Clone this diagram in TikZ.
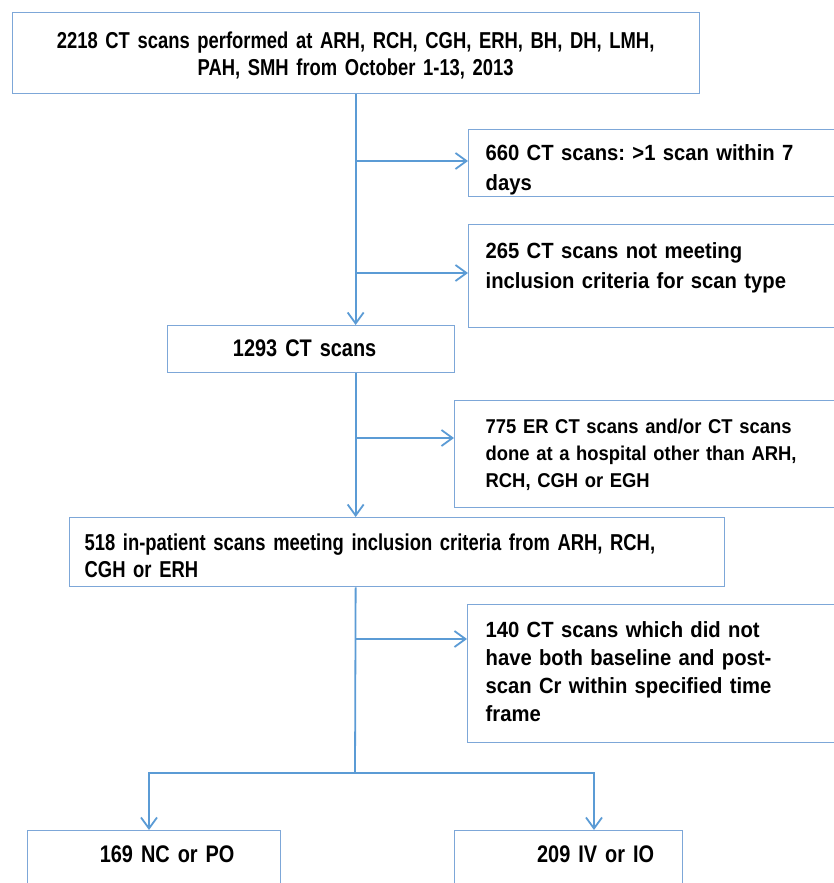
\documentclass[tikz,border=0pt]{standalone}
\usepackage{fontspec}
\setmainfont[FakeStretch=0.92,WordSpace=0.8]{Liberation Sans}
\newfontfamily\narrowfont[FakeStretch=0.80,WordSpace=0.8]{Liberation Sans}
\newfontfamily\condfont[FakeStretch=0.83,WordSpace=0.8]{Liberation Sans}
\usepackage{tikz}
\usetikzlibrary{arrows.meta,positioning}
\definecolor{boxline}{RGB}{125,167,216}
\definecolor{linkline}{RGB}{91,155,213}
\frenchspacing

\begin{document}
\begin{tikzpicture}[x=1pt,y=-1pt,
    box/.style={draw=boxline,line width=1.3pt,anchor=north west,inner ysep=0pt,inner xsep=4pt,font=\bfseries\fontsize{22}{30}\selectfont},
    narrowa/.style={font=\narrowfont\bfseries\fontsize{23}{26.5}\selectfont},
    narrowb/.style={font=\condfont\bfseries\fontsize{24}{28}\selectfont},
    trunk/.style={draw=linkline,line width=1.8pt},
    link/.style={trunk,-{Straight Barb[length=11pt,width=16pt]}}]
            \useasboundingbox (0,0) rectangle (833,883);

            \node[box,narrowa,minimum width=687pt,text width=679pt,align=center,text height=36pt,text depth=45pt] (all) at (11.5,12) {2218 CT scans performed at ARH, RCH, CGH, ERH, BH, DH, LMH,\\ PAH, SMH from October 1-13, 2013};
            \node[box,minimum width=377pt,text width=343pt,inner xsep=17pt,align=left,text height=31.5pt,text depth=35.5pt] (rep) at (468,128.5) {660 CT scans: >1 scan within 7\\ days};
            \node[box,minimum width=377pt,text width=343pt,inner xsep=17pt,align=left,text height=34pt,text depth=69pt] (crit) at (468,224) {265 CT scans not meeting\\ inclusion criteria for scan type};
            \node[box,narrowb,minimum width=287pt,text width=279pt,align=center,text height=31pt,text depth=16pt] (ct) at (167,325) {\hspace*{-13pt}1293 CT scans};
            \node[box,font=\bfseries\fontsize{20}{27}\selectfont,minimum width=391pt,text width=329pt,inner xsep=31pt,align=left,text height=33pt,text depth=74pt] (er) at (454,400) {775 ER CT scans and/or CT scans\\ done at a hospital other than ARH,\\ RCH, CGH or EGH};
            \node[box,narrowa,minimum width=655pt,text width=625pt,inner xsep=15pt,align=left,text height=33pt,text depth=36pt] (inp) at (69,517) {518 in-patient scans meeting inclusion criteria from ARH, RCH,\\ CGH or ERH};
            \node[box,font=\bfseries\fontsize{22}{28}\selectfont,minimum width=378pt,text width=342pt,inner xsep=18pt,align=left,text height=33pt,text depth=105pt] (cr) at (467,604) {140 CT scans which did not\\ have both baseline and post-\\ scan Cr within specified time\\ frame};
            \node[box,narrowb,minimum width=253pt,text width=245pt,align=center,text height=32pt,text depth=45pt] (nc) at (27,830) {\hspace*{26pt}169 NC or PO};
            \node[box,narrowb,minimum width=228pt,text width=220pt,align=center,text height=32pt,text depth=45pt] (iv) at (454,830) {\hspace*{54pt}209 IV or IO};

            \coordinate (repin) at ([yshift=-32.5pt]rep.north west);
            \coordinate (critin) at ([yshift=-49pt]crit.north west);
            \coordinate (erin) at ([yshift=-38pt]er.north west);
            \coordinate (crin) at ([yshift=-35pt]cr.north west);
            \coordinate (split) at (355,773);
            \coordinate (ncin) at ([xshift=122pt]nc.north west);
            \coordinate (ivin) at ([xshift=140pt]iv.north west);

            \draw[link] (all.south) -- (all.south |- ct.north);
            \draw[link] (all.south |- repin) -- (repin);
            \draw[link] (all.south |- critin) -- (critin);
            \draw[link] (all.south |- ct.south) -- (all.south |- inp.north);
            \draw[link] (all.south |- erin) -- (erin);
            \draw[trunk] (all.south |- inp.south) -- (split);
            \draw[link] (all.south |- crin) -- (crin);
            \draw[link] (split) -| (ncin);
            \draw[link] (split) -| (ivin);
          \end{tikzpicture}
\end{document}
